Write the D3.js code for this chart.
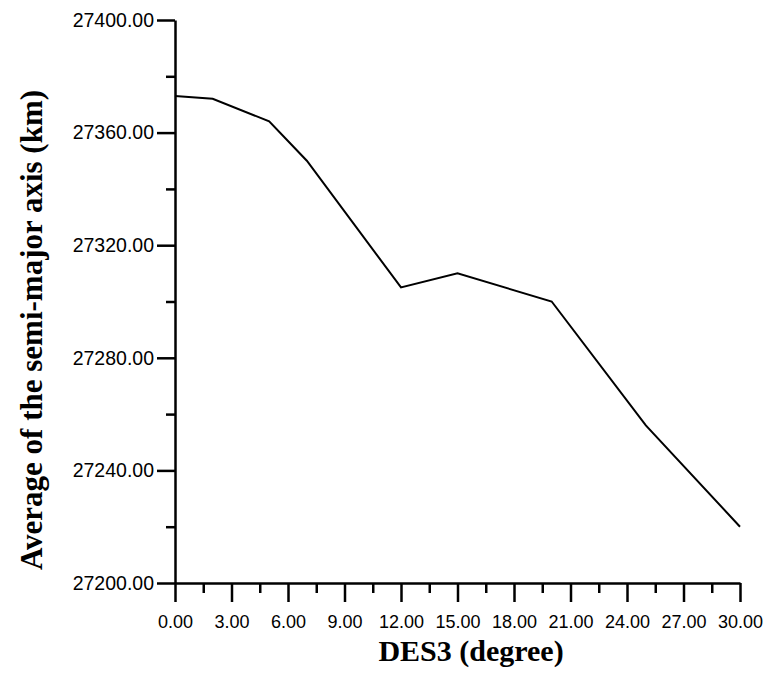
<!DOCTYPE html>
<html>
<head>
<meta charset="utf-8">
<script src="https://cdn.jsdelivr.net/npm/d3@7"></script>
<style>
body { margin: 0; background: #fff; }
</style>
</head>
<body>
<div id="chart"></div>
<script>
// DES3 angle (degree) vs average semi-major axis (km)
const des3 = [0, 2, 5, 7, 12, 15, 20, 25, 30];
const semiMajor = [27373, 27372, 27364, 27350, 27305, 27310, 27300, 27256, 27220];
const xTicks = [0, 3, 6, 9, 12, 15, 18, 21, 24, 27, 30];
const yTicks = [27200, 27240, 27280, 27320, 27360, 27400];

const W = 771, H = 673;
const svg = d3.select("#chart").append("svg").attr("width", W).attr("height", H);

const x = d3.scaleLinear().domain([0, 30]).range([175, 740]);
const y = d3.scaleLinear().domain([27200, 27400]).range([583, 20]);

// minor ticks
const xMinor = d3.range(1.5, 30, 3);
const yMinor = d3.range(27220, 27400, 40);

svg.append("g")
    .attr("transform", "translate(0,583)")
    .call(d3.axisBottom(x).tickValues(xMinor).tickSize(10).tickSizeOuter(0).tickFormat(""))
    .call(g => g.select(".domain").remove())
    .selectAll("line").attr("stroke", "#000").attr("stroke-width", 2.5);

svg.append("g")
    .attr("transform", "translate(175,0)")
    .call(d3.axisLeft(y).tickValues(yMinor).tickSize(9).tickSizeOuter(0).tickFormat(""))
    .call(g => g.select(".domain").remove())
    .selectAll("line").attr("stroke", "#000").attr("stroke-width", 2.5);

const xAxis = svg.append("g")
    .attr("transform", "translate(0,583)")
    .call(d3.axisBottom(x).tickValues(xTicks).tickSize(19).tickSizeOuter(0).tickPadding(0).tickFormat(d3.format(".2f")));
xAxis.select(".domain").attr("stroke", "#000").attr("stroke-width", 2.5);
xAxis.selectAll(".tick line").attr("stroke", "#000").attr("stroke-width", 2.5);
xAxis.selectAll(".tick text")
    .attr("y", 45).attr("dy", null)
    .attr("font-family", "Liberation Sans, Arial, sans-serif")
    .attr("font-size", 18).attr("fill", "#000");

const yAxis = svg.append("g")
    .attr("transform", "translate(175,0)")
    .call(d3.axisLeft(y).tickValues(yTicks).tickSize(18).tickSizeOuter(0).tickPadding(3).tickFormat(d3.format(".2f")));
yAxis.select(".domain").attr("stroke", "#000").attr("stroke-width", 2.5);
yAxis.selectAll(".tick line").attr("stroke", "#000").attr("stroke-width", 2.5);
yAxis.selectAll(".tick text")
    .attr("font-family", "Liberation Sans, Arial, sans-serif")
    .attr("font-size", 19.5).attr("fill", "#000");

const line = d3.line().x((d, i) => x(des3[i])).y(d => y(d));
svg.append("path")
    .datum(semiMajor)
    .attr("d", line)
    .attr("fill", "none")
    .attr("stroke", "#000")
    .attr("stroke-width", 2);

svg.append("text")
    .attr("x", 471).attr("y", 661)
    .attr("text-anchor", "middle")
    .attr("font-family", "Liberation Serif, Times New Roman, serif")
    .attr("font-weight", "bold")
    .attr("font-size", 30)
    .text("DES3 (degree)");

svg.append("text")
    .attr("transform", "translate(42,330) rotate(-90)")
    .attr("text-anchor", "middle")
    .attr("font-family", "Liberation Serif, Times New Roman, serif")
    .attr("font-weight", "bold")
    .attr("font-size", 31)
    .text("Average of the semi-major axis (km)");
</script>
</body>
</html>
